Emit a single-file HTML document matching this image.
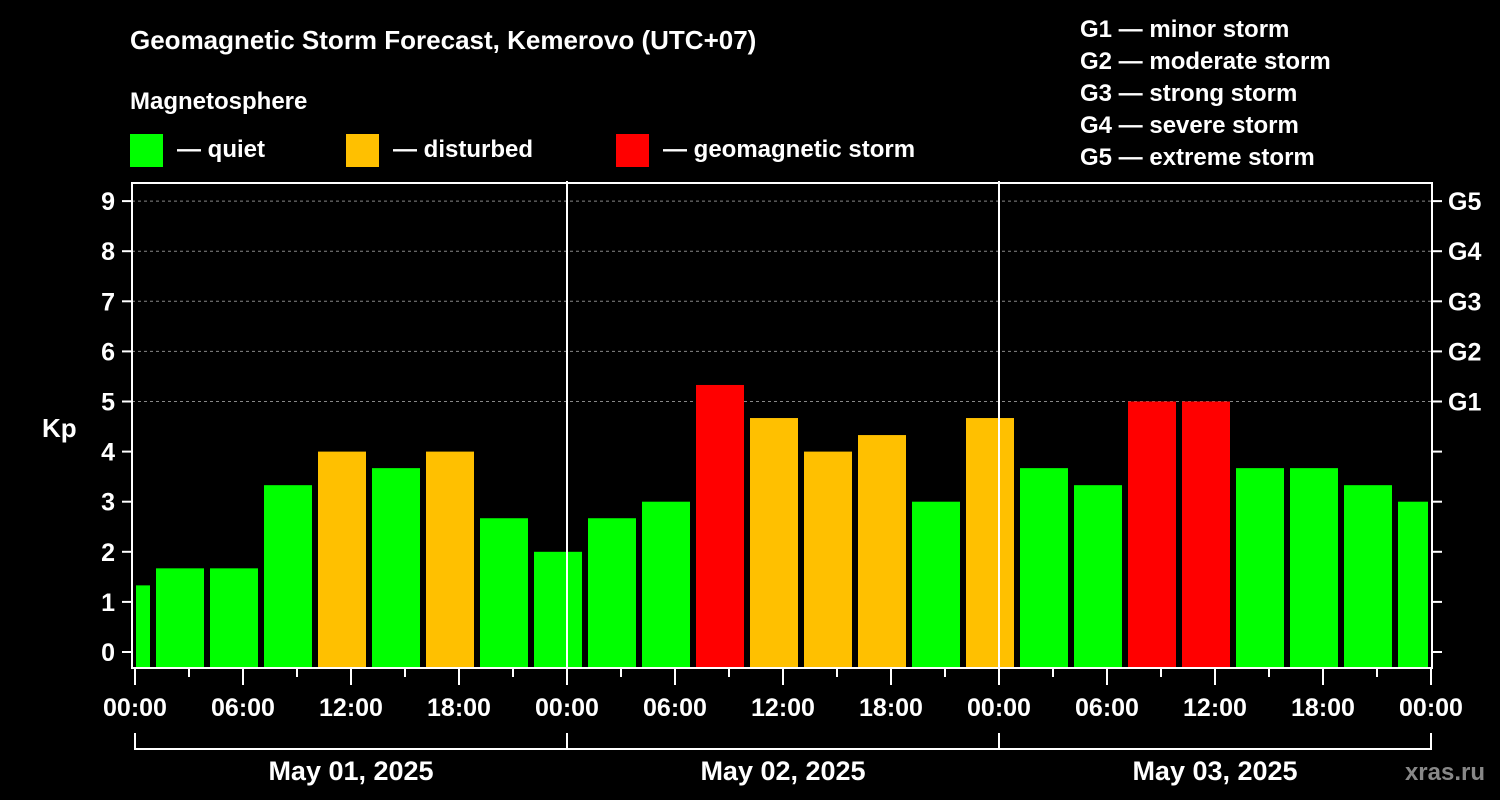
<!DOCTYPE html>
<html><head><meta charset="utf-8"><style>
html,body{margin:0;padding:0;background:#000;}
svg{display:block;font-family:"Liberation Sans",Arial,sans-serif;font-weight:bold;}
</style></head><body>
<svg id="c" width="1500" height="800" viewBox="0 0 1500 800">
<rect width="1500" height="800" fill="#000"/>
<text x="130" y="49" fill="#fff" font-size="26">Geomagnetic Storm Forecast, Kemerovo (UTC+07)</text>
<text x="130" y="109" fill="#fff" font-size="24">Magnetosphere</text>
<g><rect x="130" y="134" width="33" height="33" fill="#00ff00"/><text x="177" y="157" fill="#fff" font-size="24">— quiet</text></g>
<g><rect x="346" y="134" width="33" height="33" fill="#ffc000"/><text x="393" y="157" fill="#fff" font-size="24">— disturbed</text></g>
<g><rect x="616" y="134" width="33" height="33" fill="#ff0000"/><text x="663" y="157" fill="#fff" font-size="24">— geomagnetic storm</text></g>
<g fill="#fff" font-size="24">
<text x="1080" y="37">G1 — minor storm</text>
<text x="1080" y="69">G2 — moderate storm</text>
<text x="1080" y="101">G3 — strong storm</text>
<text x="1080" y="133">G4 — severe storm</text>
<text x="1080" y="165">G5 — extreme storm</text>
</g>
<text x="42" y="437" fill="#fff" font-size="26">Kp</text>
<text x="1485" y="780" fill="#888" font-size="24" text-anchor="end">xras.ru</text>
<g id="plot"></g>
</svg>
<script>
const kpValues=[1.33,1.67,1.67,3.33,4,3.67,4,2.67,2,2.67,3,5.33,4.67,4,4.33,3,4.67,3.67,3.33,5,5,3.67,3.67,3.33,3];
const barStartHours=[-2,1,4,7,10,13,16,19,22,25,28,31,34,37,40,43,46,49,52,55,58,61,64,67,70];
const yTicks=[0,1,2,3,4,5,6,7,8,9];
const gLabels=["G1","G2","G3","G4","G5"];
const xTickLabels=["00:00","06:00","12:00","18:00","00:00","06:00","12:00","18:00","00:00","06:00","12:00","18:00","00:00"];
const dateLabels=["May 01, 2025","May 02, 2025","May 03, 2025"];
const NS="http://www.w3.org/2000/svg";
const L=132,R=1432,T=183,B=668;
const X=h=>135+18*h;
const Y=k=>652-50.1*k;
const g=document.getElementById('plot');
function el(t,a,txt){const e=document.createElementNS(NS,t);for(const k in a)e.setAttribute(k,a[k]);if(txt!==undefined)e.textContent=txt;g.appendChild(e);return e;}
// grid
for(let k=5;k<=9;k++){const e=el('line',{x1:L,x2:R,y1:Y(k),y2:Y(k),stroke:'#888','stroke-dasharray':'3,3','stroke-width':1});

}
// bars
kpValues.forEach((v,i)=>{
 let x0=Math.max(X(barStartHours[i])+3,L+4), x1=Math.min(X(barStartHours[i]+3)-3,R-4);
 const col=v>=5?'#ff0000':(v>=4?'#ffc000':'#00ff00');
 const r=el('rect',{x:x0,y:Y(v),width:x1-x0,height:B-Y(v),fill:col});
 
 
});
// day separators
[24,48].forEach(h=>{const e=el('line',{x1:X(h),x2:X(h),y1:181,y2:B,stroke:'#fff','stroke-width':2});

});
// frame
const f=el('rect',{x:L,y:T,width:R-L,height:B-T,fill:'none',stroke:'#fff','stroke-width':2});


// y ticks
yTicks.forEach(k=>{
 el('line',{x1:L-10,x2:L,y1:Y(k),y2:Y(k),stroke:'#fff','stroke-width':2});
 el('line',{x1:R,x2:R+10,y1:Y(k),y2:Y(k),stroke:'#fff','stroke-width':2});
 const t=el('text',{x:115,y:Y(k)+9,fill:'#fff','font-size':25,'text-anchor':'end'},String(k));
 
 
});
gLabels.forEach((s,i)=>{const t=el('text',{x:1448,y:Y(i+5)+9,fill:'#fff','font-size':25},s);

});
// x ticks
for(let h=0;h<=72;h+=3){const major=h%6===0;el('line',{x1:X(h),x2:X(h),y1:B,y2:B+(major?17:9),stroke:'#fff','stroke-width':2});}
xTickLabels.forEach((s,i)=>{const t=el('text',{x:X(i*6),y:716,fill:'#fff','font-size':25,'text-anchor':'middle'},s);

});
// date bracket
el('line',{x1:X(0),x2:X(72),y1:749,y2:749,stroke:'#fff','stroke-width':2});
[0,24,48,72].forEach(h=>el('line',{x1:X(h),x2:X(h),y1:733,y2:750,stroke:'#fff','stroke-width':2}));
dateLabels.forEach((s,i)=>{const t=el('text',{x:X(i*24+12),y:780,fill:'#fff','font-size':27,'text-anchor':'middle'},s);

});
</script>
</body></html>
